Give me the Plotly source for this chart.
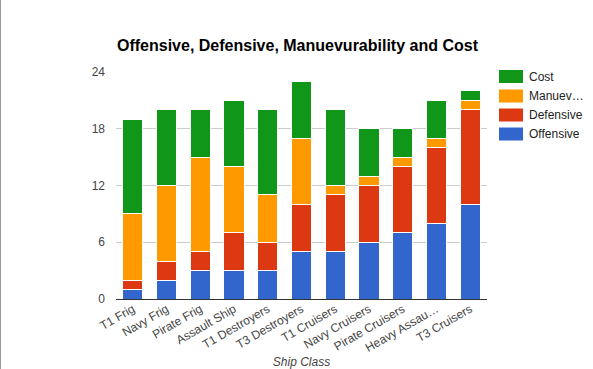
import plotly.graph_objects as go

categories = ["T1 Frig", "Navy Frig", "Pirate Frig", "Assault Ship", "T1 Destroyers",
              "T3 Destroyers", "T1 Cruisers", "Navy Cruisers", "Pirate Cruisers",
              "Heavy Assau…", "T3 Cruisers"]
offensive = [1, 2, 3, 3, 3, 5, 5, 6, 7, 8, 10]
defensive = [1, 2, 2, 4, 3, 5, 6, 6, 7, 8, 10]
manuev = [7, 8, 10, 7, 5, 7, 1, 1, 1, 1, 1]
cost = [10, 8, 5, 7, 9, 6, 8, 5, 3, 4, 1]

series = [("Offensive", offensive, "#3366CC"),
          ("Defensive", defensive, "#DC3912"),
          ("Manuev…", manuev, "#FF9900"),
          ("Cost", cost, "#109618")]

W, H = 593, 369
ml, mr, mt, mb = 116, 106, 72, 70
pw, ph = W - ml - mr, H - mt - mb

fig = go.Figure()
for name, vals, col in series:
    fig.add_trace(go.Bar(x=categories, y=vals, name=name, marker_color=col,
                         marker_line_color="white", marker_line_width=1,
                         showlegend=False))

font = "Arial, Liberation Sans, sans-serif"
shapes = []
annotations = []
# custom legend (Cost on top)
leg_y = [76.5, 96, 115, 134]
for (name, vals, col), yy in zip(reversed(series), leg_y):
    x0 = (499 - ml) / pw
    x1 = (523 - ml) / pw
    y0 = (H - mb - (yy + 6.5)) / ph
    y1 = (H - mb - (yy - 6.5)) / ph
    shapes.append(dict(type="rect", xref="paper", yref="paper", x0=x0, x1=x1, y0=y0, y1=y1,
                       fillcolor=col, line_width=0))
    annotations.append(dict(xref="paper", yref="paper", x=(527 - ml) / pw, y=(H - mb - yy) / ph,
                            text=name, showarrow=False, xanchor="left", yanchor="middle",
                            font=dict(family=font, size=12, color="#222222")))
# left border line
shapes.append(dict(type="line", xref="paper", yref="paper", x0=(0.5 - ml) / pw, x1=(0.5 - ml) / pw,
                   y0=-mb / ph, y1=(H - mb) / ph, line=dict(color="#999999", width=1)))

fig.update_layout(
    barmode="stack",
    bargap=0.4,
    width=W, height=H,
    margin=dict(l=ml, r=mr, t=mt, b=mb),
    paper_bgcolor="white", plot_bgcolor="white",
    font=dict(family=font, size=12, color="#444444"),
    title=dict(text="<b>Offensive, Defensive, Manuevurability and Cost</b>",
               x=117 / W, xanchor="left", y=1 - 45 / H, yanchor="middle",
               font=dict(family=font, size=16, color="#000000")),
    xaxis=dict(tickangle=-30, showgrid=False, ticks="", showline=False, automargin=False,
               tickfont=dict(size=12, color="#444444"),
               title=dict(text="<i>Ship Class</i>", standoff=4,
                          font=dict(size=12, color="#444444"))),
    yaxis=dict(range=[0, 24], tickvals=[0, 6, 12, 18, 24], gridcolor="#cccccc",
               zeroline=True, zerolinecolor="#333333", zerolinewidth=1, automargin=False,
               showline=False, ticks="", ticklabelstandoff=10,
               tickfont=dict(size=12, color="#444444")),
    shapes=shapes, annotations=annotations,
)
fig.write_html("out.html", config={"displayModeBar": False},
               post_script="document.body.style.margin='0px';document.body.style.overflow='hidden';")
